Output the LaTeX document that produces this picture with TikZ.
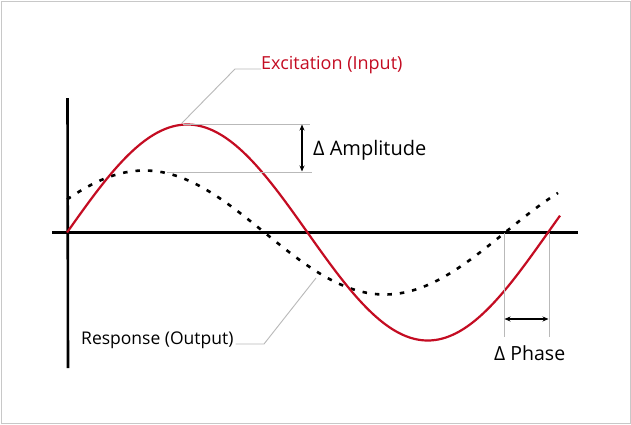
\documentclass[tikz,border=0pt]{standalone}
\usepackage{fontspec}
\setmainfont{Open Sans}
\usetikzlibrary{arrows.meta}
\definecolor{excred}{RGB}{196,12,34}
\definecolor{leadgray}{RGB}{185,185,185}
\definecolor{framegray}{RGB}{200,200,200}
\tikzset{
  axisline/.style={line width=2.6pt,black},
  inputcurve/.style={line width=2.2pt,excred},
  outputcurve/.style={line width=2.6pt,black,dash pattern=on 4.5pt off 8pt},
  leader/.style={line width=0.9pt,leadgray},
  dimarrow/.style={line width=1.1pt,black,{Stealth[length=6pt,width=5pt]}-{Stealth[length=6pt,width=5pt]}},
  lbl/.style={inner sep=0pt,anchor=base west}
}
\begin{document}
\begin{tikzpicture}[x=1pt,y=-1pt]
\useasboundingbox (0,0) rectangle (631,424);
\fill[white] (0,0) rectangle (631,424);
\draw[framegray,line width=1pt] (1,1) rectangle (630,423);

% axes
\coordinate (vtop) at (67.5,98);
\coordinate (vbot) at (68,368);
\coordinate (hl) at (52,232.5);
\coordinate (hr) at (578,232.5);
\draw[axisline] (vtop) -- (vbot);
\draw[axisline] (hl) -- (hr);

% curves (period 481 px -> 0.74844 deg per px)
\draw[outputcurve] plot[domain=67:558,samples=200] (\x,{232.5-62*sin(0.74844*(\x-24))});
\draw[inputcurve] plot[domain=67:560,samples=200] (\x,{232.5-108*sin(0.74844*(\x-67))});

% amplitude guides
\coordinate (atopL) at (183,124);
\coordinate (atopR) at (310,124);
\coordinate (abotL) at (167,172);
\coordinate (abotR) at (312,172);
\draw[leader] (atopL) -- (atopR);
\draw[leader] (abotL) -- (abotR);
\coordinate (aup) at (302,124.5);
\coordinate (adn) at (302,171.5);
\draw[dimarrow] (aup) -- (adn);
\node[lbl,font=\fontsize{20}{24}\selectfont] (amp) at (313,155) {Δ Amplitude};

% phase guides
\coordinate (p1t) at (504,233);
\coordinate (p1b) at (504,337);
\coordinate (p2t) at (549,233);
\coordinate (p2b) at (549,337);
\draw[leader] (p1t) -- (p1b);
\draw[leader] (p2t) -- (p2b);
\coordinate (pl) at (504.5,319);
\coordinate (pr) at (548.5,319);
\draw[dimarrow] (pl) -- (pr);
\node[lbl,font=\fontsize{19.5}{23}\selectfont] (phase) at (494,360) {Δ Phase};

% excitation label
\node[lbl,font=\fontsize{18}{22}\selectfont,text=excred] (exc) at (261,69) {Excitation (Input)};
\coordinate (ebend) at (235,69);
\coordinate (epeak) at (182,123);
\draw[leader] (exc.base west) -- (ebend) -- (epeak);

% response label
\node[lbl,font=\fontsize{17.5}{21}\selectfont] (resp) at (81,344) {Response (Output)};
\coordinate (rbend) at (264,344);
\coordinate (rcurve) at (316,278);
\draw[leader] (resp.base east) ++(2,0) -- (rbend) -- (rcurve);
\end{tikzpicture}
\end{document}
